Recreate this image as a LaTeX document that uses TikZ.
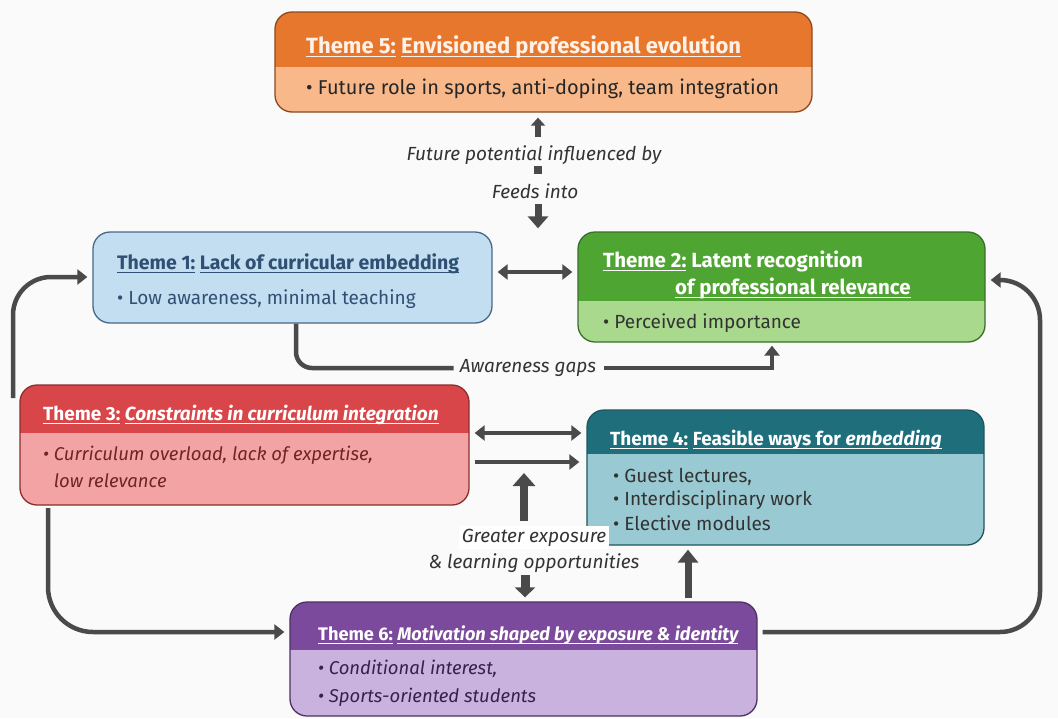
\documentclass[tikz,border=0pt]{standalone}
\usepackage{fontspec}
\setmainfont{Fira Sans}
\usetikzlibrary{arrows.meta}
\definecolor{bg}{HTML}{FAFAFA}
\definecolor{arr}{HTML}{4A4A4A}
\definecolor{t5h}{HTML}{E8772E}\definecolor{t5l}{HTML}{F8B889}\definecolor{t5b}{HTML}{8A4A1E}
\definecolor{t1l}{HTML}{C3DDF1}\definecolor{t1b}{HTML}{46698A}\definecolor{t1t}{HTML}{2F4F73}
\definecolor{t2h}{HTML}{4FA532}\definecolor{t2l}{HTML}{A8D98C}\definecolor{t2b}{HTML}{3A6E2A}
\definecolor{t3h}{HTML}{D9464A}\definecolor{t3l}{HTML}{F3A3A3}\definecolor{t3b}{HTML}{8A2E2E}
\definecolor{t4h}{HTML}{1F6E7C}\definecolor{t4l}{HTML}{99C9D2}\definecolor{t4b}{HTML}{1E5660}
\definecolor{t6h}{HTML}{7C4A9C}\definecolor{t6l}{HTML}{C9B2DE}\definecolor{t6b}{HTML}{4E2F66}
\newcommand\myul[1]{\leavevmode\setbox0\hbox{#1}\rlap{\rule[-4pt]{\wd0}{0.7pt}}\box0\relax}
\newcommand\titlefont{\fontsize{19.5}{23}\selectfont\bfseries}
\newcommand\bodyfont{\fontsize{19}{24}\selectfont}
\tikzset{
  box/.style={rounded corners=17pt, line width=1.3pt, inner sep=0pt},
  hdr/.style 2 args={path picture={\fill[#1, sharp corners] (path picture bounding box.north west) rectangle ([yshift=-#2]path picture bounding box.north east);}},
  ttl/.style={anchor=base west, inner sep=0pt, font=\titlefont},
  bdy/.style={anchor=base west, inner sep=0pt, font=\bodyfont},
  bdi/.style={anchor=base west, inner sep=0pt, font=\fontsize{18.5}{24}\selectfont\itshape},
  lbl/.style={anchor=base, inner sep=0pt, font=\fontsize{19}{22}\selectfont\itshape, text=black!80},
  con/.style={draw=arr, line width=4.5pt, -{Triangle[length=10pt,width=15pt]}},
  dcon/.style={draw=arr, line width=4.5pt, {Triangle[length=10pt,width=15pt]}-{Triangle[length=10pt,width=15pt]}},
  bigcon/.style={draw=arr, line width=8pt, -{Triangle[length=13pt,width=22pt]}},
}
\begin{document}
\begin{tikzpicture}[x=1pt,y=-1pt]
\fill[bg] (0,0) rectangle (1058,718);
\useasboundingbox (0,0) rectangle (1058,718);
% boxes
\node[box, draw=t5b, fill=t5l, hdr={t5h}{55pt}, minimum width=537pt, minimum height=100pt] (t5) at (543.5,62) {};
\node[box, draw=t1b, fill=t1l, minimum width=399pt, minimum height=91pt] (t1) at (292.5,277.5) {};
\node[box, draw=t2b, fill=t2l, hdr={t2h}{69pt}, minimum width=407pt, minimum height=110pt] (t2) at (781.5,287) {};
\node[box, draw=t3b, fill=t3l, hdr={t3h}{48pt}, minimum width=449pt, minimum height=120pt] (t3) at (244.5,445) {};
\node[box, draw=t4b, fill=t4l, hdr={t4h}{44pt}, minimum width=397pt, minimum height=135pt] (t4) at (785.5,477.5) {};
\node[box, draw=t6b, fill=t6l, hdr={t6h}{48pt}, minimum width=467pt, minimum height=114pt] (t6) at (523.5,659) {};
% texts
\node[ttl, text=t5l!20!white, font=\fontsize{22}{26}\selectfont\bfseries] (t5a) at (306,53) {\myul{Theme 5:} \myul{Envisioned professional evolution}};
\node[bdy, text=black!85, font=\fontsize{20}{24}\selectfont] (t5b1) at (306,94) {• Future role in sports, anti-doping, team integration};
\node[ttl, text=t1t] (t1a) at (117,269) {\myul{Theme 1:} \myul{Lack of curricular embedding}};
\node[bdy, text=t1t] (t1b1) at (117,304) {• Low awareness, minimal teaching};
\node[ttl, text=white, font=\fontsize{20.5}{24}\selectfont\bfseries] (t2a) at (603,267) {\myul{Theme 2:} Latent recognition};
\node[ttl, text=white, font=\fontsize{20.5}{24}\selectfont\bfseries] (t2a2) at (675,294) {\myul{of professional relevance}};
\node[bdy, text=black!80] (t2b1) at (603,328) {• Perceived importance};
\node[ttl, text=white, font=\fontsize{19}{23}\selectfont\bfseries] (t3a) at (43,420) {\myul{Theme 3:} \myul{\itshape Constraints in curriculum integration}};
\node[bdi, text=t3b!80!black] (t3b1) at (43,460) {• Curriculum overload, lack of expertise,};
\node[bdi, text=t3b!80!black] (t3b2) at (43,487) {\hphantom{• }low relevance};
\node[ttl, text=white, font=\fontsize{19}{23}\selectfont\bfseries] (t4a) at (610,445) {\myul{Theme 4:} \myul{Feasible ways for \textit{embedding}}};
\node[bdy, text=black!80] (t4b1) at (613,482) {• Guest lectures,};
\node[bdy, text=black!80] (t4b2) at (613,505) {• Interdisciplinary work};
\node[bdy, text=black!80] (t4b3) at (613,530) {• Elective modules};
\node[ttl, text=white, font=\fontsize{18.2}{23}\selectfont\bfseries] (t6a) at (318,640) {\myul{Theme 6:} \myul{\itshape Motivation shaped by exposure \& identity}};
\node[bdi, text=t6b!70!black] (t6b1) at (318,674) {• Conditional interest,};
\node[bdi, text=t6b!70!black] (t6b2) at (318,702) {• Sports-oriented students};
% labels
\node[lbl] (fp) at (534,160) {Future potential influenced by};
\node[lbl] (fi) at (535,198) {Feeds into};
\node[lbl] (aw) at (528,372) {Awareness gaps};
\node[lbl, fill=white, inner sep=3pt] (ge1) at (534,542) {Greater exposure};
\node[lbl] (ge2) at (534,568) {\& learning opportunities};
% connectors
\coordinate (c5) at (538,137);
\draw[draw=arr, line width=6pt, -{Triangle[length=8pt,width=14pt]}] (c5) -- ([yshift=-5pt]t5.south -| c5);
\fill[arr] (534,166) rectangle (542,174);
\coordinate (c1) at (538,204);
\draw[draw=arr, line width=7pt, -{Triangle[length=12pt,width=20pt]}] (c1) -- ([yshift=3pt]t1.north -| c1);
\draw[dcon] ([xshift=5pt]t1.east |- 0,272) -- ([xshift=-5pt]t2.west |- 0,272);
\draw[draw=arr, line width=4.5pt, rounded corners=16pt] (t1.south -| 296,0) |- ([xshift=-6pt]aw.west |- 0,368);
\draw[con] ([xshift=8pt]aw.east |- 0,368) -| ([yshift=-3pt]t2.south -| 772,0);
\coordinate (l1) at (13,398);
\draw[con, rounded corners=38pt] (l1) |- ([xshift=-5pt]t1.west |- 0,277);
\coordinate (l2) at (48,508);
\draw[con, rounded corners=45pt] (l2) |- ([xshift=-5pt]t6.west |- 0,632);
\coordinate (r1) at (1040,450);
\draw[con, rounded corners=40pt] ([xshift=5pt]t6.east |- 0,632) -| (r1) |- ([xshift=5pt]t2.east |- 0,280);
\draw[dcon] ([xshift=5pt]t3.east |- 0,433) -- ([xshift=-5pt]t4.west |- 0,433);
\draw[con] ([xshift=5pt]t3.east |- 0,462) -- ([xshift=-7pt]t4.west |- 0,462);
\draw[bigcon] ([yshift=4pt]ge1.north -| 524,0) -- (524,473);
\draw[draw=arr, line width=9pt, -{Triangle[length=10pt,width=20pt]}] ([yshift=-3pt]ge2.south -| 525,0) -- ([yshift=4pt]t6.north -| 525,0);
\draw[draw=arr, line width=7pt, -{Triangle[length=13pt,width=20pt]}] ([yshift=3pt]t6.north -| 688,0) -- ([yshift=-4pt]t4.south -| 688,0);
\end{tikzpicture}
\end{document}
